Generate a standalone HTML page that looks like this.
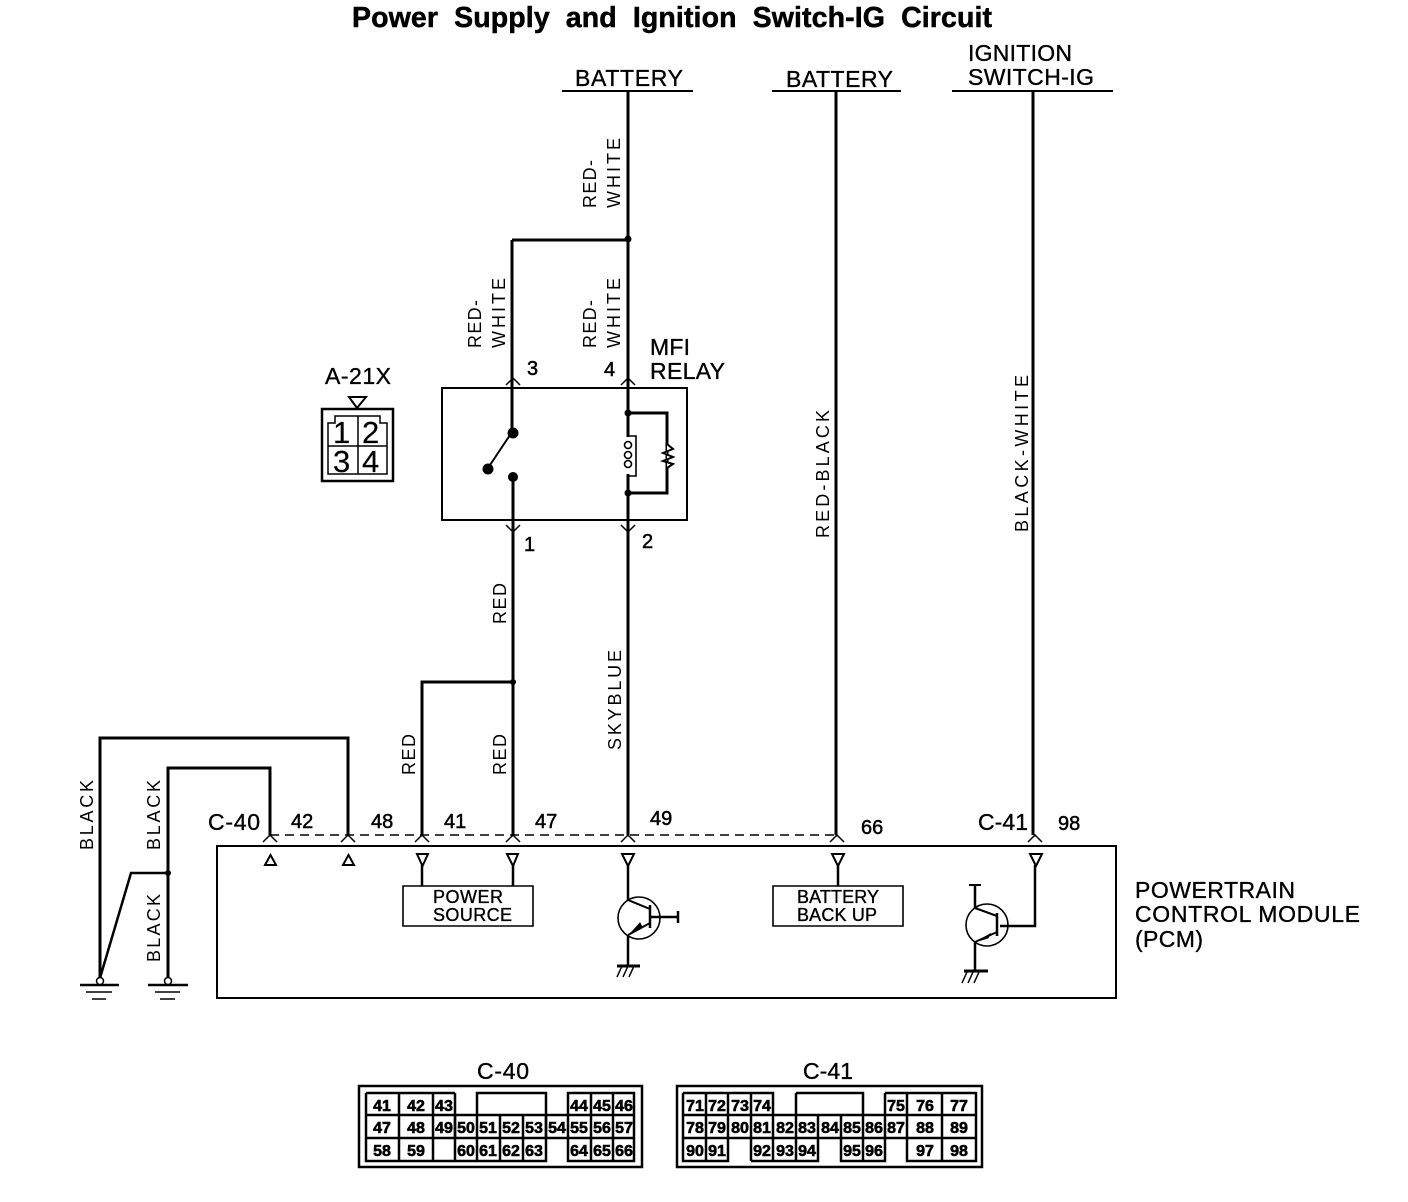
<!DOCTYPE html>
<html><head><meta charset="utf-8"><style>
html,body{margin:0;padding:0;background:#fff}
svg{display:block}
text{font-family:"Liberation Sans",sans-serif;fill:#000}
.l{font-size:23px;stroke:#000;stroke-width:.35}
.m{font-size:20px;stroke:#000;stroke-width:.5}
.v{font-size:18px}
.s{font-size:20px;stroke:#000;stroke-width:.5}
.c{font-size:16px;font-weight:bold;text-anchor:middle;stroke:#000;stroke-width:.6}
.b{font-size:18px;stroke:#000;stroke-width:.35}
.d{font-size:31px;stroke:#000;stroke-width:.2}
</style></head><body>
<svg width="1408" height="1202" viewBox="0 0 1408 1202" xmlns="http://www.w3.org/2000/svg">
<rect width="1408" height="1202" fill="#fff"/>
<text x="352" y="27" font-weight="bold" textLength="640" stroke="#000" stroke-width=".5" style="font-size:28.500px;word-spacing:8px">Power Supply and Ignition Switch-IG Circuit</text>

<text class="l" x="575" y="86" textLength="108">BATTERY</text>
<text class="l" x="786" y="87" textLength="107">BATTERY</text>
<text class="l" x="968" y="61" textLength="104">IGNITION</text>
<text class="l" x="968" y="85" textLength="126">SWITCH-IG</text>
<g fill="none" stroke="#000" stroke-width="2">
<path d="M562 91H693M772 91H901M952 91H1113"/>
<path d="M442 388H687V520H442Z"/>
<path d="M217 846H1116V998H217Z"/>
<path d="M403 886H533V926H403ZM773 886H903V926H773Z" stroke-width="1.600"/>
</g>
<g fill="none" stroke="#000" stroke-width="3">
<path d="M628 91V437M628 474V835"/>
<path d="M512 240H628M512 240V432"/>
<path d="M513 478V835"/>
<path d="M422 835V682H513"/>
<path d="M836 91V835M1033 91V835"/>
<path d="M100 978V738H348V835"/>
<path d="M168 978V768H270V835"/>
<path d="M100 978L131 873H168" stroke-width="2.500"/>
<path d="M628 413H667V493H628"/>
<path d="M512 432L488 468" stroke-width="2"/>
<path d="M628 865V900M628 935V965M838 865V886M1035 865V926H1000M975 885V908M975 942V970M422 865V886M513 865V886" stroke-width="2.500"/>
</g>
<path d="M270 835H838" fill="none" stroke="#000" stroke-width="1.500" stroke-dasharray="9 6"/>

<!-- pin markers -->
<g fill="none" stroke="#000" stroke-width="1.500">
<path d="M506 385L513 378L520 385M506 525L513 532L520 525M621 385L628 378L635 385M621 525L628 532L635 525"/>
<path d="M263 842L270 835L277 842M341 842L348 835L355 842M415 842L422 835L429 842M506 842L513 835L520 842M621 842L628 835L635 842M830 842L837 835L844 842M1028 842L1035 835L1042 842"/>
<path d="M265 865H276L270.500 855ZM343 865H354L348.500 855Z" stroke-width="2"/>
<path d="M417 854H428L422.500 866ZM507 854H518L513 866ZM622 854H634L628 866ZM832 854H844L838 866ZM1030 854H1042L1036 866Z" stroke-width="2"/>
<path d="M349 397H366L357 408Z" stroke-width="2"/>
</g>
<g fill="#000">
<circle cx="513" cy="433" r="5.500"/><circle cx="488" cy="469" r="5.500"/><circle cx="513" cy="477" r="5"/>
<circle cx="628" cy="413" r="3.500"/><circle cx="628" cy="493" r="3.500"/>
<circle cx="628" cy="239" r="3.500"/><circle cx="513" cy="682" r="3"/><circle cx="168" cy="873" r="3"/>
</g>
<!-- coil and resistor -->
<g fill="none" stroke="#000" stroke-width="1.600">
<path d="M628 436H636V476H628"/>
<circle cx="628" cy="445" r="3.500" fill="#fff"/><circle cx="628" cy="455" r="3.500" fill="#fff"/><circle cx="628" cy="464" r="3.500" fill="#fff"/>
<path d="M667 444L673 449L663 453L673 457L663 461L673 464L667 468" fill="#fff" stroke-width="2"/>
</g>
<!-- transistors -->
<g fill="none" stroke="#000" stroke-width="1.600">
<circle cx="639" cy="918" r="21"/><circle cx="987" cy="925" r="21"/>
<path d="M628 900L650 909M628 935L650 923" stroke-width="2"/>
<path d="M650 905V928M650 917H678M678 911V923" stroke-width="2.500"/>
<path d="M975 908L997 916M975 942L997 932" stroke-width="2"/>
<path d="M997 913V936" stroke-width="2.500"/>
<path d="M969 885H981" stroke-width="2"/>
</g>
<path d="M630 934L640 923L642 927Z M978 941L990 934L988 938Z" fill="#000" stroke="#000"/>
<!-- grounds -->
<g fill="none" stroke="#000" stroke-width="2">
<path d="M617 966H640" stroke-width="3"/>
<path d="M617 977L622 966M623 977L628 966M629 977L634 966" stroke-width="1.500"/>
<path d="M964 971H988" stroke-width="3"/>
<path d="M962 983L967 972M968 983L973 972M974 983L979 972" stroke-width="1.500"/>
<path d="M80 985H119M148 985H188" stroke-width="2.500"/>
<path d="M86 992H112M155 992H180M92 999H106M160 999H175" stroke-width="1.500"/>
</g>
<circle cx="100" cy="981" r="3.500" fill="#fff" stroke="#000" stroke-width="1.500"/>
<circle cx="168" cy="981" r="3.500" fill="#fff" stroke="#000" stroke-width="1.500"/>

<!-- wire labels -->
<g>
<text class="v" transform="translate(596,208) rotate(-90)" textLength="48">RED-</text>
<text class="v" transform="translate(620,208) rotate(-90)" textLength="70">WHITE</text>
<text class="v" transform="translate(596,348) rotate(-90)" textLength="48">RED-</text>
<text class="v" transform="translate(620,348) rotate(-90)" textLength="70">WHITE</text>
<text class="v" transform="translate(481,348) rotate(-90)" textLength="48">RED-</text>
<text class="v" transform="translate(505,348) rotate(-90)" textLength="70">WHITE</text>
<text class="v" transform="translate(829,538) rotate(-90)" textLength="128">RED-BLACK</text>
<text class="v" transform="translate(1028,532) rotate(-90)" textLength="157">BLACK-WHITE</text>
<text class="v" transform="translate(506,624) rotate(-90)" textLength="41">RED</text>
<text class="v" transform="translate(506,775) rotate(-90)" textLength="41">RED</text>
<text class="v" transform="translate(415,775) rotate(-90)" textLength="41">RED</text>
<text class="v" transform="translate(621,750) rotate(-90)" textLength="100">SKYBLUE</text>
<text class="v" transform="translate(93,850) rotate(-90)" textLength="70">BLACK</text>
<text class="v" transform="translate(160,850) rotate(-90)" textLength="70">BLACK</text>
<text class="v" transform="translate(160,962) rotate(-90)" textLength="68">BLACK</text>
</g>

<!-- terminal numbers -->
<g>
<text class="s" x="527" y="375">3</text><text class="s" x="604" y="376">4</text>
<text class="s" x="524" y="551">1</text><text class="s" x="642" y="548">2</text>
<text class="m" x="291" y="828">42</text><text class="m" x="371" y="828">48</text>
<text class="m" x="444" y="828">41</text><text class="m" x="535" y="828">47</text>
<text class="m" x="650" y="825">49</text><text class="m" x="861" y="834">66</text>
<text class="m" x="1058" y="830">98</text>
</g>
<text class="l" x="208" y="830" textLength="52">C-40</text>
<text class="l" x="978" y="830" textLength="50">C-41</text>
<text class="l" x="650" y="355" textLength="40">MFI</text>
<text class="l" x="650" y="379" textLength="75">RELAY</text>
<text class="l" x="325" y="384" textLength="66">A-21X</text>
<text class="l" x="1135" y="898" textLength="160">POWERTRAIN</text>
<text class="l" x="1135" y="922" textLength="225">CONTROL MODULE</text>
<text class="l" x="1135" y="947" textLength="68">(PCM)</text>
<text class="b" x="433" y="903" textLength="70">POWER</text>
<text class="b" x="433" y="921" textLength="79">SOURCE</text>
<text class="b" x="797" y="903" textLength="82">BATTERY</text>
<text class="b" x="797" y="921" textLength="80">BACK UP</text>

<!-- A-21X connector -->
<g fill="none" stroke="#000">
<rect x="322" y="409" width="71" height="72" stroke-width="2.500"/>
<path d="M328 423H335V416H380V423H387V474H328ZM358 416V474M328 446H387" stroke-width="1.500"/>
</g>
<text class="d" x="333" y="443">1</text><text class="d" x="362" y="443">2</text>
<text class="d" x="333" y="472">3</text><text class="d" x="362" y="472">4</text>

<!-- C-40 -->
<text class="l" x="477" y="1079" textLength="52">C-40</text>
<g fill="none" stroke="#000" stroke-width="2.500">
<rect x="359" y="1086" width="283" height="81"/>
<path d="M366 1093H455M366 1093V1161H455M399 1093V1161M433 1093V1161M455 1093V1138M366 1115H634M366 1138H634"/>
<path d="M477 1115V1093H546V1115M477 1115V1161H546V1115M500 1115V1161M523 1115V1161"/>
<path d="M455 1115V1161H477M568 1093H634V1161H568ZM591 1093V1161M613 1093V1161M546 1115V1138M568 1115V1138"/>
</g>
<g>
<text class="c" x="382" y="1111">41</text><text class="c" x="416" y="1111">42</text><text class="c" x="444" y="1111">43</text>
<text class="c" x="579" y="1111">44</text><text class="c" x="602" y="1111">45</text><text class="c" x="624" y="1111">46</text>
<text class="c" x="382" y="1133">47</text><text class="c" x="416" y="1133">48</text><text class="c" x="444" y="1133">49</text><text class="c" x="466" y="1133">50</text><text class="c" x="488" y="1133">51</text><text class="c" x="511" y="1133">52</text><text class="c" x="534" y="1133">53</text><text class="c" x="557" y="1133">54</text><text class="c" x="579" y="1133">55</text><text class="c" x="602" y="1133">56</text><text class="c" x="624" y="1133">57</text>
<text class="c" x="382" y="1156">58</text><text class="c" x="416" y="1156">59</text><text class="c" x="466" y="1156">60</text><text class="c" x="488" y="1156">61</text><text class="c" x="511" y="1156">62</text><text class="c" x="534" y="1156">63</text><text class="c" x="579" y="1156">64</text><text class="c" x="602" y="1156">65</text><text class="c" x="624" y="1156">66</text>
</g>

<!-- C-41 -->
<text class="l" x="803" y="1079" textLength="50">C-41</text>
<g fill="none" stroke="#000" stroke-width="2.500">
<rect x="677" y="1086" width="305" height="81"/>
<path d="M683 1093H773V1115M683 1093V1161H728V1138M706 1093V1161M728 1093V1138M751 1093V1161M683 1115H976M683 1138H976"/>
<path d="M751 1161H818V1138M773 1115V1161M796 1093V1161M796 1093H863V1115M818 1115V1138M841 1115V1161H885V1115M863 1115V1161"/>
<path d="M885 1093H976V1161H907V1115M885 1093V1115M907 1093V1115M942 1093V1161"/>
</g>
<g>
<text class="c" x="695" y="1111">71</text><text class="c" x="717" y="1111">72</text><text class="c" x="740" y="1111">73</text><text class="c" x="762" y="1111">74</text><text class="c" x="896" y="1111">75</text><text class="c" x="925" y="1111">76</text><text class="c" x="959" y="1111">77</text>
<text class="c" x="695" y="1133">78</text><text class="c" x="717" y="1133">79</text><text class="c" x="740" y="1133">80</text><text class="c" x="762" y="1133">81</text><text class="c" x="785" y="1133">82</text><text class="c" x="807" y="1133">83</text><text class="c" x="830" y="1133">84</text><text class="c" x="852" y="1133">85</text><text class="c" x="874" y="1133">86</text><text class="c" x="896" y="1133">87</text><text class="c" x="925" y="1133">88</text><text class="c" x="959" y="1133">89</text>
<text class="c" x="695" y="1156">90</text><text class="c" x="717" y="1156">91</text><text class="c" x="762" y="1156">92</text><text class="c" x="785" y="1156">93</text><text class="c" x="807" y="1156">94</text><text class="c" x="852" y="1156">95</text><text class="c" x="874" y="1156">96</text><text class="c" x="925" y="1156">97</text><text class="c" x="959" y="1156">98</text>
</g>
</svg>
</body></html>
